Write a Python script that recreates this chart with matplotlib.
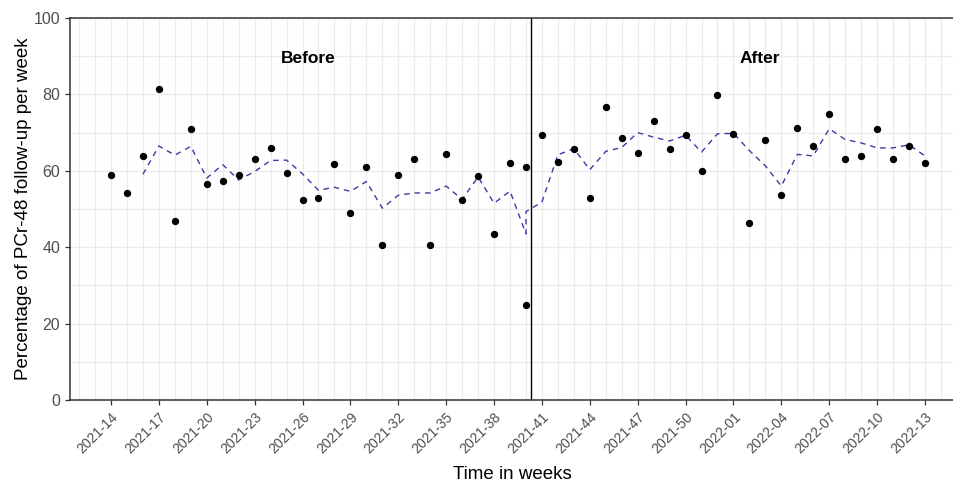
"""
weekly PCr-48 follow-up, before / after
"""

import matplotlib
matplotlib.use("Agg")
import matplotlib.pyplot as plt
import numpy as np

plt.rcParams['font.family'] = ['Liberation Sans', 'DejaVu Sans']

# all weeks on the axis
weeks = (["2021-%02d" % w for w in range(14, 53)] +
         ["2022-%02d" % w for w in range(1, 14)])

# one row per observation (2021-40 has two rows: before / after split)
row_weeks = weeks[:27] + ["2021-40"] + weeks[27:]
pct = [59.0, 54.3, 64.0, 81.3, 46.9, 70.9, 56.6, 57.3, 59.0, 63.0,
       66.0, 59.3, 52.4, 53.0, 61.7, 49.0, 61.0, 40.7, 59.0, 63.0,
       40.7, 64.3, 52.4, 58.6, 43.4, 62.0, 25.0, 61.0, 69.4, 62.3,
       65.6, 53.0, 76.6, 68.6, 64.7, 73.0, 65.6, 69.3, 59.9, 79.9,
       69.6, 46.3, 68.0, 53.7, 71.3, 66.6, 75.0, 63.0, 64.0, 70.9,
       63.0, 66.6, 62.0]

# dashed trend line (3 week moving average)
trend = [np.nan, np.nan,
         59.1, 66.5, 64.1, 66.4, 58.1, 61.6, 57.6, 59.8, 62.7, 62.8,
         59.2, 54.9, 55.7, 54.6, 57.2, 50.2, 53.6, 54.2, 54.2, 56.0,
         52.5, 58.4, 51.5, 54.7, 43.5, 49.3, 51.8, 64.2, 65.8, 60.3,
         65.1, 66.1, 70.0, 68.8, 67.8, 69.3, 64.9, 69.7, 69.8, 65.3,
         61.3, 56.0, 64.3, 63.9, 71.0, 68.2, 67.3, 66.0, 66.0, 66.8,
         63.9]

intervention = 26.3  # between 2021-40 and 2021-41

x = [weeks.index(w) for w in row_weeks]

fig = plt.figure(figsize=(9.54, 4.82), dpi=100)
ax = fig.add_axes([70 / 954, 82 / 482, 884 / 954, 382 / 482])

# grid
ax.set_xticks(range(-2, 53), minor=True)
ax.set_yticks(range(0, 101, 10), minor=True)
ax.grid(True, which="both", color="#ebebeb", lw=0.9, zorder=0)
ax.set_axisbelow(True)

ax.plot(x, trend, ls=(0, (4, 3.5)), color="#3a3aa8", lw=1.0, zorder=2)
ax.scatter(x, pct, s=28, color="black", zorder=3, linewidths=0)
ax.axvline(intervention, color="black", lw=1.0, zorder=2)

ax.text(12.34, 89.5, "Before", fontsize=12.5, fontweight="bold", ha="center", va="center")
ax.text(40.66, 89.5, "After", fontsize=12.5, fontweight="bold", ha="center", va="center")

ax.set_xlim(-2.57, 52.82)
ax.set_ylim(0, 100)

tick_pos = list(range(0, len(weeks), 3))
ax.set_xticks(tick_pos)
ax.set_xticklabels([weeks[i] for i in tick_pos], rotation=45, ha="right",
                   rotation_mode="anchor", fontsize=10, color="#4d4d4d")
ax.set_yticks(range(0, 101, 20))
ax.set_yticklabels([str(v) for v in range(0, 101, 20)], fontsize=11.5, color="#4d4d4d")
ax.tick_params(axis="both", which="major", length=3.5, width=0.9, color="#333333")
ax.tick_params(axis="both", which="minor", length=0)

for s in ["left", "bottom", "top"]:
    ax.spines[s].set_color("#333333")
    ax.spines[s].set_linewidth(1.1)
ax.spines["right"].set_visible(False)

ax.set_xlabel("Time in weeks", fontsize=13.5, labelpad=7)
ax.set_ylabel("Percentage of PCr-48 follow-up per week", fontsize=13.5, labelpad=1)

fig.savefig("out.png", dpi=100)
